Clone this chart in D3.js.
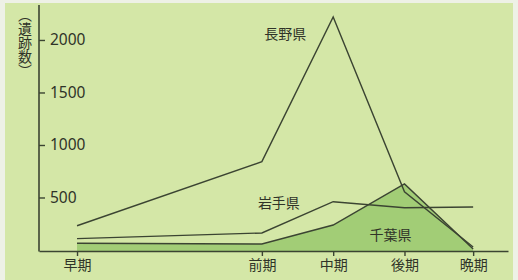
<!DOCTYPE html>
<html>
<head>
<meta charset="utf-8">
<script src="https://cdn.jsdelivr.net/npm/d3@7"></script>
<style>
  html, body { margin: 0; padding: 0; background: #eef1e6; }
  svg { display: block; }
  text { font-family: "Noto Sans CJK JP", "Noto Sans", sans-serif; fill: #2f3328; }
</style>
</head>
<body>
<svg width="518" height="280"></svg>
<script>
// 縄文時代の時期（おおよその年代・年前）
const periods = ["早期", "前期", "中期", "後期", "晩期"];
const periodYears = [9500, 6000, 4650, 3300, 2000];

// 遺跡数
const nagano = [231, 841, 2219, 555, 29];
const iwate = [108, 162, 460, 403, 410];
const chiba = [64, 57, 238, 629, 10];

const yTicks = [500, 1000, 1500, 2000];

const svg = d3.select("svg"),
  width = +svg.attr("width"),
  height = +svg.attr("height");

svg.append("rect")
  .attr("x", 5).attr("y", 3)
  .attr("width", width - 10).attr("height", height - 3)
  .attr("fill", "#d4e7a7");

const x = d3.scaleLinear().domain([10220, 1340]).range([39, 508]);
const y = d3.scaleLinear().domain([0, 2333]).range([250, 5]);

const rows = (vals) => periodYears.map((yr, i) => ({ yr: yr, v: vals[i] }));

// 千葉県 (area)
const area = d3.area()
  .x(d => x(d.yr))
  .y0(y(0) + 1)
  .y1(d => y(d.v));

svg.append("path")
  .datum(rows(chiba))
  .attr("d", area)
  .attr("fill", "#a2cd76");

const line = d3.line()
  .x(d => x(d.yr))
  .y(d => y(d.v));

[chiba, iwate, nagano].forEach(function (s) {
  svg.append("path")
    .datum(rows(s))
    .attr("d", line)
    .attr("fill", "none")
    .attr("stroke", "#3b4432")
    .attr("stroke-width", 1.4);
});

// y axis
const yAxis = svg.append("g")
  .attr("transform", "translate(39,0)")
  .call(d3.axisRight(y).tickValues(yTicks).tickFormat(d3.format("d"))
    .tickSize(6).tickPadding(5).tickSizeOuter(0));
yAxis.select(".domain").attr("stroke", "#3b4432").attr("stroke-width", 1.6)
  .attr("d", "M0," + (y(0) + 1.5) + "V" + y.range()[1]);
yAxis.selectAll(".tick line").attr("stroke", "#3b4432").attr("stroke-width", 1.4);
yAxis.selectAll(".tick text")
  .style("font-size", "15.5px")
  .style("font-family", "'Noto Sans', sans-serif")
  .attr("fill", "#2f3328");

// x axis
const xAxis = svg.append("g")
  .attr("transform", "translate(0," + (y(0) + 1) + ")")
  .call(d3.axisBottom(x).tickValues(periodYears)
    .tickFormat((d, i) => periods[i]).tickSize(5).tickPadding(4).tickSizeOuter(0));
xAxis.select(".domain").attr("stroke", "#3b4432").attr("stroke-width", 1.6);
xAxis.selectAll(".tick line").attr("stroke", "#3b4432").attr("stroke-width", 1.4);
xAxis.selectAll(".tick text")
  .style("font-size", "14px")
  .attr("fill", "#2f3328");

// y axis title (vertical)
svg.append("text")
  .attr("x", 25)
  .attr("y", 8)
  .style("writing-mode", "vertical-rl")
  .style("font-size", "14px")
  .text("（遺跡数）");

// series labels
const labels = [
  { t: "長野県", yr: 4650, v: 2219, dx: -48, dy: 16 },
  { t: "岩手県", yr: 6000, v: 162, dx: 17, dy: -31 },
  { t: "千葉県", yr: 3300, v: 629, dx: -14, dy: 50 }
];
svg.selectAll(".lab")
  .data(labels)
  .join("text")
  .attr("x", d => x(d.yr) + d.dx)
  .attr("y", d => y(d.v) + d.dy)
  .attr("text-anchor", "middle")
  .attr("dominant-baseline", "central")
  .style("font-size", "14px")
  .text(d => d.t);
</script>
</body>
</html>
